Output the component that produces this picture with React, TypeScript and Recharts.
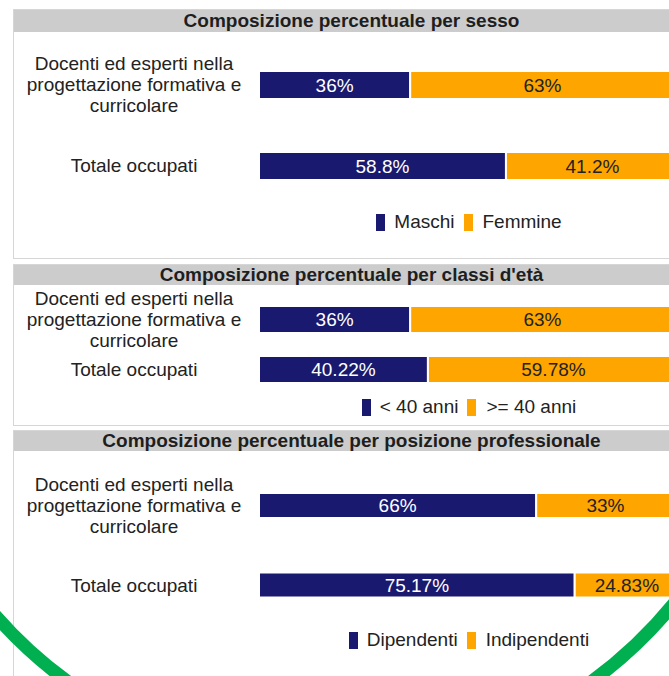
import React from 'react'
import { BarChart, Bar, XAxis, YAxis, Legend, LabelList } from 'recharts'

// colours used by the original report
const NAVY = '#191970'
const ORANGE = '#FFA500'
const FONT = '"Liberation Sans", Arial, Helvetica, sans-serif'

const categories = [
  'Docenti ed esperti nella progettazione formativa e curricolare',
  'Totale occupati',
]

// per sesso
const maschi = [36, 58.8]
const femmine = [63, 41.2]

// per classi d'età
const under40 = [36, 40.22]
const over40 = [63, 59.78]

// per posizione professionale
const dipendenti = [66, 75.17]
const indipendenti = [33, 24.83]

const wrapLabel = (text: string, max = 25) => {
  const lines: string[] = []
  let cur = ''
  text.split(' ').forEach(w => {
    const next = cur ? cur + ' ' + w : w
    if (next.length > max && cur) {
      lines.push(cur)
      cur = w
    } else {
      cur = next
    }
  })
  if (cur) lines.push(cur)
  return lines
}

const CategoryTick = (props: any) => {
  const { y, payload } = props
  const lines = wrapLabel(String(payload.value))
  const lh = 21
  return (
    <text x={120} y={y} textAnchor="middle" fontSize={19} fill="#222" fontFamily={FONT}>
      {lines.map((l, i) => (
        <tspan key={i} x={120} dy={i === 0 ? -((lines.length - 1) / 2) * lh + 6.5 : lh}>
          {l}
        </tspan>
      ))}
    </text>
  )
}

interface PanelProps {
  title: string
  top: number
  height: number
  headerH: number
  marginTop: number
  marginBottom: number
  legendH: number
  barSize: number
  first: number[]
  second: number[]
  firstName: string
  secondName: string
}

const Panel = (p: PanelProps) => {
  const data = categories.map((name, i) => ({ name, a: p.first[i], b: p.second[i] }))
  const chartH = p.height - 2 - p.headerH

  const renderLegend = () => (
    <div
      style={{
        height: p.legendH,
        display: 'flex',
        alignItems: 'center',
        justifyContent: 'center',
        fontSize: 19,
        color: '#222',
        fontFamily: FONT,
      }}
    >
      <span style={{ display: 'inline-block', width: 9, height: 17, background: NAVY, marginRight: 9 }} />
      <span style={{ marginRight: 9 }}>{p.firstName}</span>
      <span style={{ display: 'inline-block', width: 9, height: 17, background: ORANGE, marginRight: 10 }} />
      <span>{p.secondName}</span>
    </div>
  )

  return (
    <div
      style={{
        position: 'absolute',
        left: 13,
        top: p.top,
        width: 677,
        height: p.height,
        boxSizing: 'border-box',
        border: '1px solid #d6d6d6',
        background: '#fff',
      }}
    >
      <div
        style={{
          height: p.headerH,
          lineHeight: p.headerH + 'px',
          background: '#cccccc',
          textAlign: 'center',
          fontWeight: 'bold',
          fontSize: 19,
          color: '#1e1e1e',
          fontFamily: FONT,
        }}
      >
        {p.title}
      </div>
      <BarChart
        width={675}
        height={chartH}
        data={data}
        layout="vertical"
        margin={{ top: p.marginTop, right: 10, bottom: p.marginBottom, left: 0 }}
      >
        <XAxis type="number" domain={[0, 100]} hide />
        <YAxis
          type="category"
          dataKey="name"
          width={245}
          axisLine={false}
          tickLine={false}
          tick={CategoryTick}
          interval={0}
        />
        <Legend
          verticalAlign="bottom"
          content={renderLegend}
          wrapperStyle={{ left: 245, width: 420 }}
        />
        <Bar dataKey="a" name={p.firstName} stackId="s" fill={NAVY} stroke="#fff" strokeWidth={2} barSize={p.barSize} isAnimationActive={false}>
          <LabelList dataKey="a" position="center" formatter={(v: any) => v + '%'} fill="#fff" fontSize={19} fontFamily={FONT} />
        </Bar>
        <Bar dataKey="b" name={p.secondName} stackId="s" fill={ORANGE} stroke="#fff" strokeWidth={2} barSize={p.barSize} isAnimationActive={false}>
          <LabelList dataKey="b" position="center" formatter={(v: any) => v + '%'} fill="#222" fontSize={19} fontFamily={FONT} />
        </Bar>
      </BarChart>
    </div>
  )
}

export default function App() {
  return (
    <div
      style={{
        position: 'absolute',
        left: 0,
        top: 0,
        width: 669,
        height: 676,
        overflow: 'hidden',
        background: '#fff',
      }}
    >
      <Panel
        title="Composizione percentuale per sesso"
        top={9}
        height={250}
        headerH={22}
        marginTop={12}
        marginBottom={20}
        legendH={32}
        barSize={28}
        first={maschi}
        second={femmine}
        firstName="Maschi"
        secondName="Femmine"
      />
      <Panel
        title="Composizione percentuale per classi d'età"
        top={264}
        height={162}
        headerH={20}
        marginTop={9}
        marginBottom={5}
        legendH={26}
        barSize={27}
        first={under40}
        second={over40}
        firstName="< 40 anni"
        secondName=">= 40 anni"
      />
      <Panel
        title="Composizione percentuale per posizione professionale"
        top={430}
        height={280}
        headerH={20}
        marginTop={15}
        marginBottom={54}
        legendH={30}
        barSize={25}
        first={dipendenti}
        second={indipendenti}
        firstName="Dipendenti"
        secondName="Indipendenti"
      />
      {/* green decorative ring at the bottom of the page */}
      <svg
        width={669}
        height={676}
        style={{ position: 'absolute', left: 0, top: 0, pointerEvents: 'none' }}
      >
        <path d="M -20 597 A 445 445 0 0 0 680 596" fill="none" stroke="#00b050" strokeWidth={13} />
      </svg>
    </div>
  )
}
